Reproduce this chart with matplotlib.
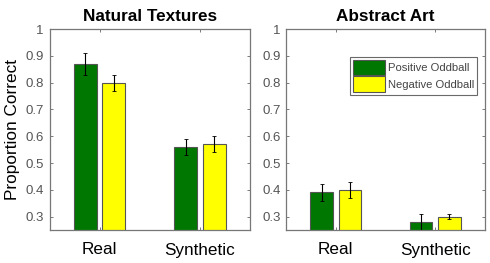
import matplotlib
matplotlib.use('Agg')
import matplotlib.pyplot as plt
import numpy as np

plt.rcParams['font.family'] = ['Liberation Sans', 'DejaVu Sans']

groups = ['Real', 'Synthetic']
series = ['Positive Oddball', 'Negative Oddball']
colors = ['#007700', '#ffff00']

nat_pos = [0.87, 0.56]
nat_pos_err = [0.04, 0.03]
nat_neg = [0.80, 0.57]
nat_neg_err = [0.03, 0.03]

art_pos = [0.39, 0.28]
art_pos_err = [0.03, 0.03]
art_neg = [0.40, 0.30]
art_neg_err = [0.03, 0.01]

yticks = [0.3, 0.4, 0.5, 0.6, 0.7, 0.8, 0.9, 1]
ytick_labels = ['0.3', '0.4', '0.5', '0.6', '0.7', '0.8', '0.9', '1']

fig = plt.figure(figsize=(4.9, 2.63), dpi=100)
ax1 = fig.add_axes([49.5/490, 1-230/263, 200.5/490, 201/263])
ax2 = fig.add_axes([286/490, 1-230/263, 199/490, 201/263])

x = np.arange(1, len(groups) + 1)
w = 0.23
off = 0.143
edge = '#555555'

def panel(ax, pos, pos_err, neg, neg_err, title):
    ax.bar(x - off, pos, w, color=colors[0], edgecolor=edge, linewidth=0.8, label=series[0])
    ax.bar(x + off, neg, w, color=colors[1], edgecolor=edge, linewidth=0.8, label=series[1])
    ax.errorbar(x - off, pos, yerr=pos_err, fmt='none', ecolor='black', elinewidth=0.8, capsize=1.5, capthick=0.6)
    ax.errorbar(x + off, neg, yerr=neg_err, fmt='none', ecolor='black', elinewidth=0.8, capsize=1.5, capthick=0.6)
    ax.set_xlim(0.5, 2.5)
    ax.set_ylim(0.25, 1)
    ax.set_yticks(yticks)
    ax.set_yticklabels(ytick_labels)
    ax.set_xticks(x)
    ax.set_xticklabels(groups, fontsize=12.3, color='black')
    ax.tick_params(axis='y', direction='in', length=2, width=0.6, colors='#666666',
                   labelsize=9.5, labelcolor='#555555', right=True, pad=4)
    ax.tick_params(axis='x', direction='in', length=2, width=0.6, colors='#666666',
                   top=True, pad=9, labelcolor='black')
    for s in ax.spines.values():
        s.set_color('#777777')
        s.set_linewidth(0.9)
    ax.set_title(title, fontsize=12.3, fontweight='bold', pad=6)

panel(ax1, nat_pos, nat_pos_err, nat_neg, nat_neg_err, 'Natural Textures')
panel(ax2, art_pos, art_pos_err, art_neg, art_neg_err, 'Abstract Art')

ax1.set_ylabel('Proportion Correct', fontsize=12.4, labelpad=4)

leg = ax2.legend(loc='upper right', bbox_to_anchor=(0.99, 0.89), fontsize=8.1,
                 frameon=True, fancybox=False, handlelength=2.8, handleheight=1.7,
                 handletextpad=0.25, borderpad=0.3, labelspacing=0.1,
                 labelcolor='#444444')
leg.get_frame().set_edgecolor('#444444')
leg.get_frame().set_linewidth(0.8)

fig.savefig('out.png', dpi=100)
